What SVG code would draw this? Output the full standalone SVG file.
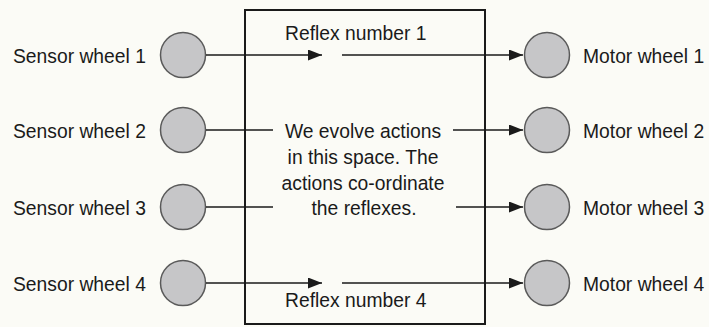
<svg xmlns="http://www.w3.org/2000/svg" width="709" height="327" viewBox="0 0 709 327">
<defs>
<style>
text{font-family:"Liberation Sans",Arial,sans-serif;font-size:19.3px;fill:#1a1a1a}
.wheel{fill:#c6c6c8;stroke:#5a5a5a;stroke-width:1.5}
.ln{stroke:#1a1a1a;stroke-width:1.6;fill:none}
</style>
<marker id="ah" viewBox="0 0 14 11" refX="14" refY="5.5" markerWidth="14" markerHeight="11" markerUnits="userSpaceOnUse" orient="auto">
<path d="M0,0 L14,5.5 L0,11 Z" fill="#1a1a1a"/>
</marker>
</defs>
<rect width="709" height="327" fill="#fbfbf6"/>
<g id="space">
<rect x="245" y="10" width="240" height="314" fill="none" stroke="#1a1a1a" stroke-width="2"/>
<text x="285" y="40">Reflex number 1</text>
<text x="285" y="307">Reflex number 4</text>
<text x="363" y="138" text-anchor="middle">We evolve actions</text>
<text x="363" y="164" text-anchor="middle">in this space. The</text>
<text x="363" y="190" text-anchor="middle">actions co-ordinate</text>
<text x="364" y="215" text-anchor="middle">the reflexes.</text>
</g>
<g id="sensor1"><circle class="wheel" cx="183" cy="55" r="22.5"/><text x="13" y="63">Sensor wheel 1</text></g>
<g id="sensor2"><circle class="wheel" cx="183" cy="130" r="22.5"/><text x="13" y="138">Sensor wheel 2</text></g>
<g id="sensor3"><circle class="wheel" cx="183" cy="207" r="22.5"/><text x="13" y="215">Sensor wheel 3</text></g>
<g id="sensor4"><circle class="wheel" cx="183" cy="283" r="22.5"/><text x="13" y="291">Sensor wheel 4</text></g>
<g id="motor1"><circle class="wheel" cx="547" cy="55" r="22.5"/><text x="583" y="63">Motor wheel 1</text></g>
<g id="motor2"><circle class="wheel" cx="547" cy="130" r="22.5"/><text x="583" y="138">Motor wheel 2</text></g>
<g id="motor3"><circle class="wheel" cx="547" cy="207" r="22.5"/><text x="583" y="215">Motor wheel 3</text></g>
<g id="motor4"><circle class="wheel" cx="547" cy="283" r="22.5"/><text x="583" y="291">Motor wheel 4</text></g>
<g id="connectors">
<line class="ln" x1="206" y1="55" x2="322" y2="55" marker-end="url(#ah)"/>
<line class="ln" x1="342" y1="55" x2="523" y2="55" marker-end="url(#ah)"/>
<line class="ln" x1="206" y1="130" x2="273" y2="130"/>
<line class="ln" x1="453" y1="130" x2="523" y2="130" marker-end="url(#ah)"/>
<line class="ln" x1="206" y1="207" x2="273" y2="207"/>
<line class="ln" x1="456" y1="207" x2="523" y2="207" marker-end="url(#ah)"/>
<line class="ln" x1="206" y1="283" x2="322" y2="283" marker-end="url(#ah)"/>
<line class="ln" x1="342" y1="283" x2="523" y2="283" marker-end="url(#ah)"/>
</g>
</svg>
